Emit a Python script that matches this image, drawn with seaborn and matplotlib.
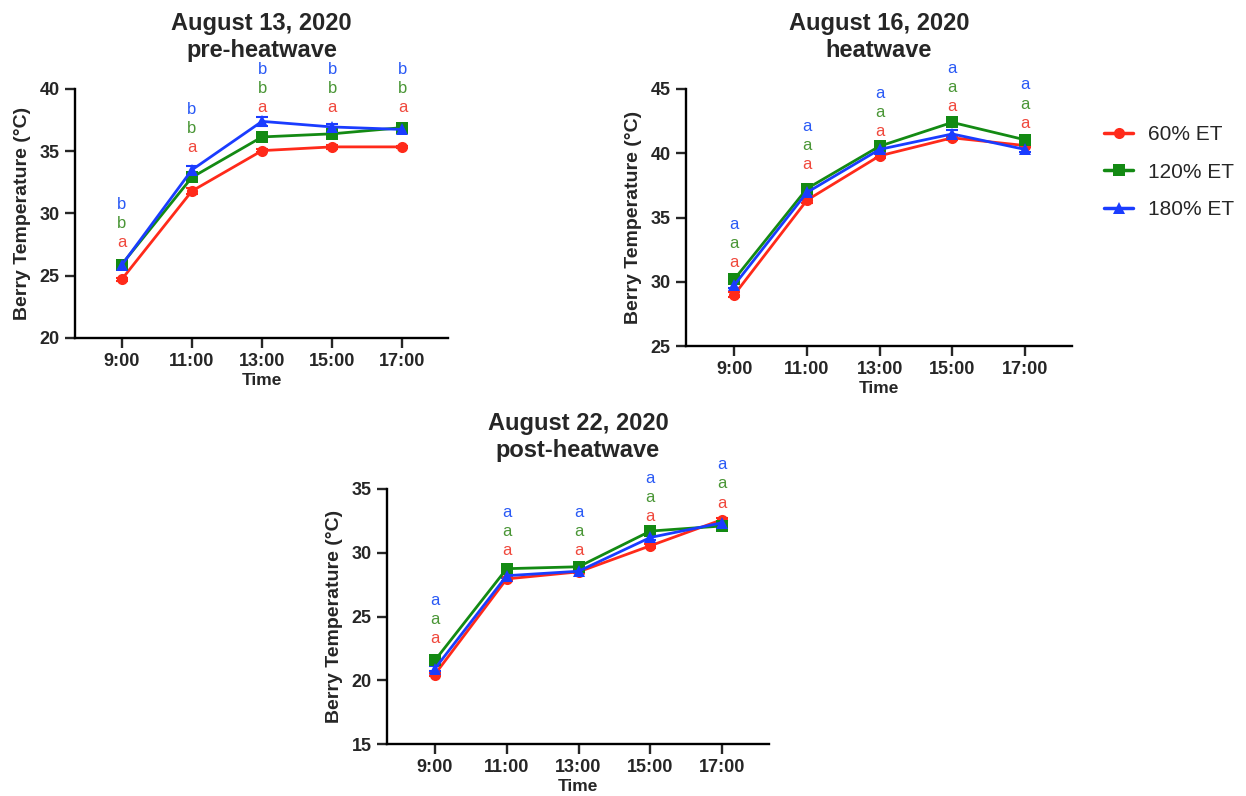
import pandas as pd
import matplotlib.pyplot as plt
import seaborn as sns

# Time points and treatments
hours = [9, 11, 13, 15, 17]
time_labels = ['9:00', '11:00', '13:00', '15:00', '17:00']
treatments = ['60% ET', '120% ET', '180% ET']

# Berry temperature means (°C)
aug13_60 = [24.7, 31.8, 35.05, 35.35, 35.35]
aug13_120 = [25.9, 32.9, 36.15, 36.4, 36.9]
aug13_180 = [25.85, 33.5, 37.4, 36.95, 36.75]

aug16_60 = [29.0, 36.35, 39.8, 41.2, 40.6]
aug16_120 = [30.2, 37.25, 40.55, 42.4, 41.05]
aug16_180 = [29.75, 36.95, 40.3, 41.5, 40.3]

aug22_60 = [20.45, 27.95, 28.5, 30.55, 32.6]
aug22_120 = [21.55, 28.75, 28.9, 31.7, 32.1]
aug22_180 = [20.9, 28.2, 28.55, 31.2, 32.35]

# Standard errors (small, mostly hidden by markers)
aug13_se = [[0.15, 0.25, 0.15, 0.15, 0.1], [0.15, 0.2, 0.2, 0.15, 0.1], [0.2, 0.35, 0.35, 0.2, 0.15]]
aug16_se = [[0.2, 0.2, 0.15, 0.15, 0.15], [0.2, 0.2, 0.15, 0.2, 0.2], [0.2, 0.25, 0.2, 0.3, 0.2]]
aug22_se = [[0.15, 0.15, 0.1, 0.15, 0.15], [0.15, 0.15, 0.1, 0.15, 0.15], [0.2, 0.2, 0.15, 0.2, 0.15]]

# Significance letters (60%, 120%, 180%) for each time point
aug13_letters = ['abb', 'abb', 'abb', 'abb', 'abb']
aug16_letters = ['aaa', 'aaa', 'aaa', 'aaa', 'aaa']
aug22_letters = ['aaa', 'aaa', 'aaa', 'aaa', 'aaa']

# Height of the lowest letter at each time point
aug13_letter_y = [27.65, 35.3, 38.5, 38.5, 38.5]
aug16_letter_y = [31.5, 39.1, 41.7, 43.6, 42.35]
aug22_letter_y = [23.3, 30.2, 30.2, 32.85, 33.9]

titles = ['August 13, 2020\npre-heatwave', 'August 16, 2020\nheatwave', 'August 22, 2020\npost-heatwave']

line_colors = {'60% ET': '#FF2A1A', '120% ET': '#138A13', '180% ET': '#1A3CFF'}
letter_colors = ['#F0483C', '#4A9636', '#2A5AF5']
marker_map = {'60% ET': 'o', '120% ET': 's', '180% ET': '^'}

sns.set_style("ticks")
plt.rcParams['font.family'] = ['Liberation Sans', 'DejaVu Sans']

fig = plt.figure(figsize=(12.46, 7.96), dpi=100)
axes = [
    fig.add_axes([0.0602, 0.5754, 0.2994, 0.3128]),
    fig.add_axes([0.5506, 0.5653, 0.3098, 0.3229]),
    fig.add_axes([0.3106, 0.0653, 0.3066, 0.3204]),
]

panels = [
    ([aug13_60, aug13_120, aug13_180], aug13_se, aug13_letters, aug13_letter_y, (20, 40)),
    ([aug16_60, aug16_120, aug16_180], aug16_se, aug16_letters, aug16_letter_y, (25, 45)),
    ([aug22_60, aug22_120, aug22_180], aug22_se, aug22_letters, aug22_letter_y, (15, 35)),
]

for i, (ax, (series, ses, letters, letter_y, ylim)) in enumerate(zip(axes, panels)):
    rows = []
    for trt, vals in zip(treatments, series):
        for h, v in zip(hours, vals):
            rows.append({'hour': h, 'temp': v, 'treatment': trt})
    df = pd.DataFrame(rows)

    # error bars under the lines
    for trt, vals, se in zip(treatments, series, ses):
        ax.errorbar(hours, vals, yerr=se, fmt='none', ecolor=line_colors[trt],
                    elinewidth=1.5, capsize=4, capthick=1.5, zorder=1)

    sns.lineplot(data=df, x='hour', y='temp', hue='treatment', style='treatment',
                 hue_order=treatments, style_order=treatments, palette=line_colors,
                 markers=marker_map, dashes=False, linewidth=2, markersize=8,
                 markeredgewidth=0, ax=ax, legend=(i == 1), zorder=2)

    # significance letters stacked above each time point
    for h, base, lets in zip(hours, letter_y, letters):
        for k, (let, col) in enumerate(zip(lets, letter_colors)):
            ax.annotate(let, (h, base), textcoords='offset points', xytext=(0, 13.7 * k),
                        ha='center', va='center', fontsize=12, color=col,
                        annotation_clip=False)

    ax.set_xlim(7.67, 18.3)
    ax.set_ylim(*ylim)
    ax.set_xticks(hours)
    ax.set_xticklabels(time_labels)
    ax.set_yticks(range(ylim[0], ylim[1] + 1, 5))
    ax.tick_params(axis='both', length=7, width=1.7, labelsize=13, pad=4)
    for lab in ax.get_xticklabels() + ax.get_yticklabels():
        lab.set_fontweight('bold')
    for s in ['left', 'bottom']:
        ax.spines[s].set_linewidth(1.7)
        ax.spines[s].set_color('black')
    sns.despine(ax=ax)
    ax.set_xlabel('Time', fontsize=12.5, fontweight='bold', labelpad=2)
    ax.set_ylabel('Berry Temperature (°C)', fontsize=14, fontweight='bold', labelpad=6)
    ax.set_title(titles[i], fontsize=17, fontweight='bold', pad=23)

# Legend on the right of the heatwave panel
handles, labels = axes[1].get_legend_handles_labels()
axes[1].get_legend().remove()
for hnd in handles:
    hnd.set_linewidth(2.5)
fig.legend(handles, labels, loc='upper left', bbox_to_anchor=(0.886, 0.843),
           frameon=False, fontsize=15, handlelength=1.4, handletextpad=0.7,
           labelspacing=0.9, borderpad=0, borderaxespad=0)

fig.savefig('out.png', dpi=100)
